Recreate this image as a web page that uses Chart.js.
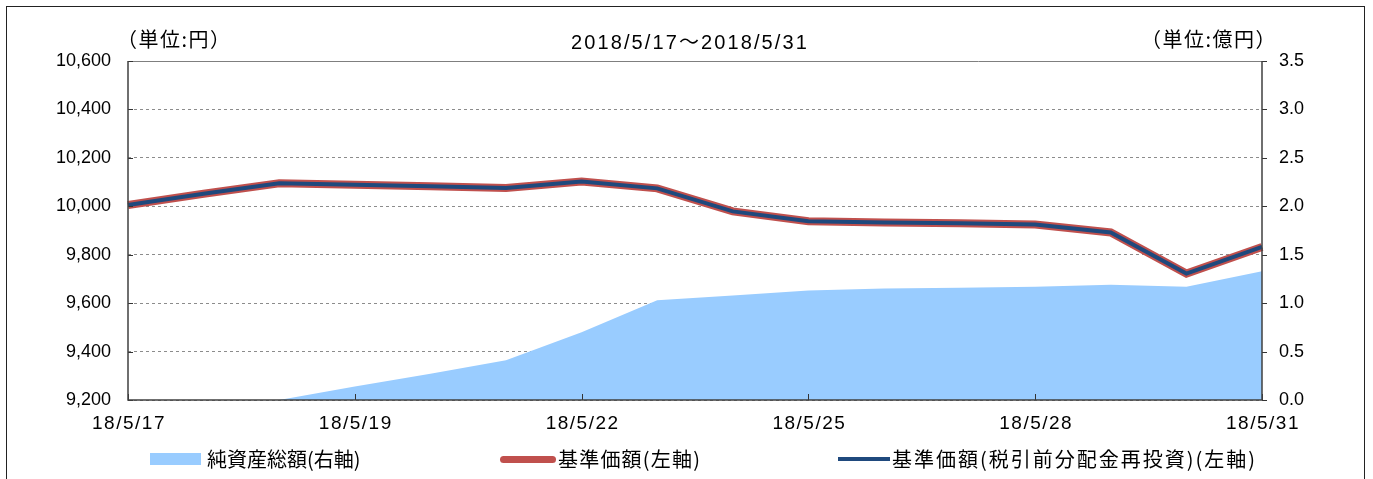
<!DOCTYPE html>
<html>
<head>
<meta charset="utf-8">
<script src="https://cdn.jsdelivr.net/npm/chart.js@4/dist/chart.umd.min.js"></script>
<style>
  html, body { margin: 0; padding: 0; background: #fff; }
  #wrap { position: relative; width: 1373px; height: 479px; overflow: hidden; background: #fff; }
  #frame { position: absolute; left: 6px; top: 6px; width: 1359px; height: 500px; border: 1.5px solid #222; box-sizing: border-box; pointer-events: none; }
  canvas { position: absolute; left: 0; top: 0; }
  .txt { position: absolute; font-family: "Liberation Sans", "Noto Sans CJK JP", sans-serif; font-size: 19px; color: #000; white-space: nowrap; line-height: 1; }
  .jp { font-family: "Noto Sans CJK JP", sans-serif; }
  .leg { position: absolute; top: 448px; display: flex; align-items: center; font-family: "Noto Sans CJK JP", sans-serif; font-size: 20px; white-space: nowrap; line-height: 1; height: 22px; }
  .sw { display: inline-block; margin-right: 6px; }
</style>
</head>
<body>
<div id="wrap">
  <canvas id="c" width="1373" height="479"></canvas>
  <div class="txt jp" style="left:117px; top:29px; font-size:20px; letter-spacing:1.5px;">（単位:円）</div>
  <div class="txt" style="left:571px; top:31px; font-size:20px; letter-spacing:2.1px;">2018/5/17<span class="jp">～</span>2018/5/31</div>
  <div class="txt jp" style="right:96px; top:29px; font-size:20px; letter-spacing:1.5px;">（単位:億円）</div>
  <div class="leg" style="left:150px;"><span class="sw" style="width:51px;height:12px;background:#99CCFF;"></span>純資産総額(右軸)</div>
  <div class="leg" style="left:500px;"><span class="sw" style="width:56px;height:7px;background:#C0504D;border-radius:4px;margin-right:2px;"></span><span style="letter-spacing:1.2px;">基準価額(左軸)</span></div>
  <div class="leg" style="left:838px;"><span class="sw" style="width:52px;height:4px;background:#1F497D;margin-right:2px;"></span><span style="letter-spacing:2px;">基準価額(税引前分配金再投資)(左軸)</span></div>
  <div id="frame"></div>
</div>
<script>
// ---- data ----
const categories = ["18/5/17", "", "", "18/5/19", "", "", "18/5/22", "", "", "18/5/25", "", "", "18/5/28", "", "", "18/5/31"];
const netAssets = [0, 0, 0, 0.14, 0.27, 0.41, 0.70, 1.03, 1.08, 1.13, 1.15, 1.16, 1.17, 1.19, 1.17, 1.33];
const navPrice = [10005, 10052, 10095, 10089, 10083, 10076, 10102, 10074, 9979, 9938, 9933, 9930, 9925, 9892, 9722, 9832];
const navReinvested = [10005, 10052, 10095, 10089, 10083, 10076, 10102, 10074, 9979, 9938, 9933, 9930, 9925, 9892, 9722, 9832];
const leftTicks = [9200, 9400, 9600, 9800, 10000, 10200, 10400, 10600];
const rightTicks = [0.0, 0.5, 1.0, 1.5, 2.0, 2.5, 3.0, 3.5];

const axisDecor = {
  id: 'axisDecor',
  afterDraw(chart) {
    const ctx = chart.ctx;
    const ca = chart.chartArea;
    const y = chart.scales.y, y2 = chart.scales.y2, x = chart.scales.x;
    ctx.save();
    // solid top border line
    ctx.strokeStyle = '#7f7f7f';
    ctx.lineWidth = 1;
    ctx.beginPath();
    const top = Math.round(y.getPixelForValue(leftTicks[leftTicks.length - 1])) + 0.5;
    ctx.moveTo(ca.left, top); ctx.lineTo(ca.right, top);
    ctx.stroke();
    // tick marks
    ctx.strokeStyle = '#333';
    ctx.beginPath();
    leftTicks.forEach(v => { const p = Math.round(y.getPixelForValue(v)) + 0.5; ctx.moveTo(ca.left, p); ctx.lineTo(ca.left + 5, p); });
    rightTicks.forEach(v => { const p = Math.round(y2.getPixelForValue(v)) + 0.5; ctx.moveTo(ca.right, p); ctx.lineTo(ca.right + 5, p); });
    categories.forEach((c, i) => { if (c) { const p = Math.round(x.getPixelForValue(i)) + 0.5; ctx.moveTo(p, ca.bottom); ctx.lineTo(p, ca.bottom - 6); } });
    ctx.stroke();
    // axis lines
    ctx.strokeStyle = '#404040';
    ctx.lineWidth = 1.5;
    ctx.beginPath();
    ctx.moveTo(ca.left, ca.top); ctx.lineTo(ca.left, ca.bottom); ctx.lineTo(ca.right, ca.bottom); ctx.lineTo(ca.right, ca.top);
    ctx.stroke();
    // category labels
    ctx.fillStyle = '#000';
    ctx.font = '19px "Liberation Sans"';
    ctx.letterSpacing = '1.5px';
    ctx.textAlign = 'center';
    ctx.textBaseline = 'middle';
    categories.forEach((c, i) => { if (c) { ctx.fillText(c, x.getPixelForValue(i) + 1, ca.bottom + 24); } });
    ctx.restore();
  }
};

new Chart(document.getElementById('c'), {
  type: 'line',
  data: {
    labels: categories,
    datasets: [
      { label: '基準価額(税引前分配金再投資)(左軸)', data: navReinvested, yAxisID: 'y', borderColor: '#1F497D', borderWidth: 4, pointRadius: 0, tension: 0, fill: false, order: 1, borderJoinStyle: 'miter' },
      { label: '基準価額(左軸)', data: navPrice, yAxisID: 'y', borderColor: '#C0504D', borderWidth: 8, pointRadius: 0, tension: 0, fill: false, order: 2, borderJoinStyle: 'miter' },
      { label: '純資産総額(右軸)', data: netAssets, yAxisID: 'y2', borderWidth: 0, borderColor: 'rgba(0,0,0,0)', backgroundColor: '#99CCFF', pointRadius: 0, tension: 0, fill: 'origin', order: 3 }
    ]
  },
  options: {
    responsive: false,
    animation: false,
    devicePixelRatio: 1,
    layout: { padding: { left: 0, right: 0, top: 61, bottom: 0 } },
    plugins: { legend: { display: false }, title: { display: false }, tooltip: { enabled: false } },
    scales: {
      x: {
        offset: false,
        grid: { display: false, drawTicks: false },
        border: { display: false },
        ticks: { display: false, autoSkip: false, maxRotation: 0, minRotation: 0 },
        afterFit(s) { s.height = 79; }
      },
      y: {
        position: 'left',
        min: 9200, max: 10600,
        afterBuildTicks(s) { s.ticks = leftTicks.map(v => ({ value: v })); },
        grid: { color: '#8c8c8c', lineWidth: 1, drawTicks: false },
        border: { display: false, dash: [3, 3] },
        ticks: { padding: 17, color: '#000', font: { family: 'Liberation Sans', size: 18 }, callback: v => v.toLocaleString('en-US') },
        afterFit(s) { s.width = 128; }
      },
      y2: {
        position: 'right',
        min: 0, max: 3.5,
        afterBuildTicks(s) { s.ticks = rightTicks.map(v => ({ value: v })); },
        grid: { display: false, drawTicks: false },
        border: { display: false },
        ticks: { padding: 17, color: '#000', font: { family: 'Liberation Sans', size: 18 }, callback: v => v.toFixed(1) },
        afterFit(s) { s.width = 111; }
      }
    }
  },
  plugins: [axisDecor]
});
</script>
</body>
</html>
